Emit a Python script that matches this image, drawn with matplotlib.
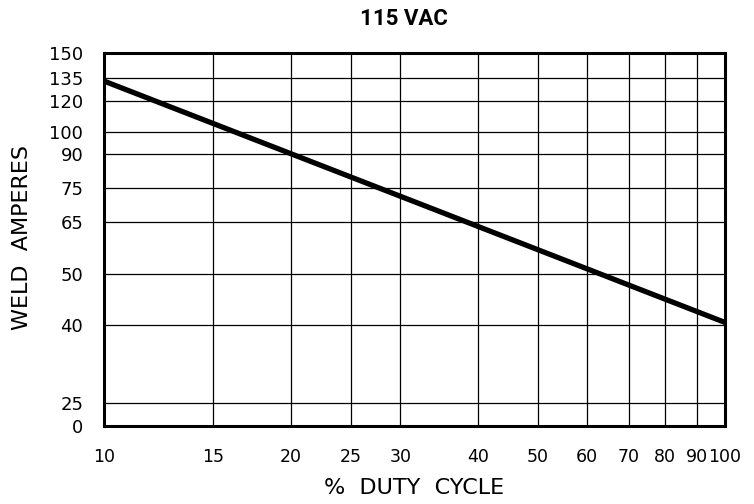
import numpy as np
import matplotlib
matplotlib.use("Agg")
from matplotlib import pyplot as plt
from matplotlib.ticker import FixedLocator, FixedFormatter, NullLocator

# data
duty_cycle = [10, 100]
weld_amps = [133, 40.5]

x_ticks = [10, 15, 20, 25, 30, 40, 50, 60, 70, 80, 90, 100]
y_ticks = [0, 25, 40, 50, 65, 75, 90, 100, 120, 135, 150]

# the amp axis is not uniform: where each tick sits (pixels up from the bottom)
y_tick_pos = np.array([0, 23, 101, 152, 204, 238, 272, 294, 325, 348, 373], float)
y_tick_val = np.array(y_ticks, float)


def amps_fwd(v):
    return np.interp(v, y_tick_val, y_tick_pos)


def amps_inv(p):
    return np.interp(p, y_tick_pos, y_tick_val)


plt.rcParams['font.family'] = ['DejaVu Sans']

fig = plt.figure(figsize=(7.54, 5.04), dpi=100)
ax = fig.add_axes([104 / 754, 1 - 426 / 504, 621 / 754, 373 / 504])

ax.set_xscale('log')
ax.set_yscale('function', functions=(amps_fwd, amps_inv))
ax.set_xlim(10, 100)
ax.set_ylim(0, 150)

# grid
for x in x_ticks[1:-1]:
    ax.axvline(x, color='black', lw=0.9, zorder=1)
for y in y_ticks[1:-1]:
    ax.axhline(y, color='black', lw=0.9, zorder=1)

ax.plot(duty_cycle, weld_amps, color='black', lw=3.8, solid_capstyle='butt', zorder=3)

ax.xaxis.set_major_locator(FixedLocator(x_ticks))
ax.xaxis.set_major_formatter(FixedFormatter([str(t) for t in x_ticks]))
ax.xaxis.set_minor_locator(NullLocator())
ax.yaxis.set_major_locator(FixedLocator(y_ticks))
ax.yaxis.set_major_formatter(FixedFormatter([str(t) for t in y_ticks]))
ax.yaxis.set_minor_locator(NullLocator())
ax.tick_params(axis='both', length=0)
ax.tick_params(axis='x', pad=16, labelsize=12.5)
ax.tick_params(axis='y', pad=15, labelsize=13)

for s in ax.spines.values():
    s.set_linewidth(2.2)
    s.set_color('black')

fig.text(404 / 754, 1 - 19 / 504, '115 VAC', ha='center', va='center',
         fontsize=16, fontweight='bold', family=['Roboto', 'DejaVu Sans'])
fig.text(414 / 754, 1 - 488 / 504, '%  DUTY  CYCLE', ha='center', va='center', fontsize=16)
fig.text(22 / 754, 1 - 238 / 504, 'WELD  AMPERES', ha='center', va='center',
         rotation=90, fontsize=16)

plt.savefig('out.png', dpi=100)
plt.close()
